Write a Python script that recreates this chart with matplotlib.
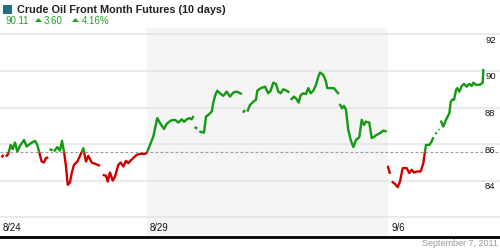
import numpy as np
import matplotlib
matplotlib.use("Agg")
import matplotlib.pyplot as plt
from matplotlib.patches import Rectangle, Polygon
from matplotlib.lines import Line2D

nan = np.nan

# ---- data (time in trading days since start of 8/24, price in USD) ----
t_days = [
    0.035, 0.068, nan,
    0.124, 0.172, 0.222, 0.263, 0.311, 0.359, 0.415, 0.498, 0.554, 0.637, 0.726, 0.774,
    0.815, 0.865, 0.913, 0.954, 1.002, nan,
    1.027, 1.093, nan,
    1.120, 1.189, 1.245, 1.286, 1.328, 1.369, 1.405, 1.452, 1.488, 1.535, 1.604, 1.660,
    1.728, 1.784, 1.832, 1.902, 1.971, 2.075, nan,
    2.131, 2.199, 2.234, 2.282, 2.338, 2.386, 2.454, 2.504, 2.558, 2.614, 2.662, 2.712,
    2.766, 2.836, 2.919, 3.008, 3.044, 3.112, 3.180, 3.263, 3.320, 3.402, 3.458, 3.541,
    3.631, 3.699, 3.770, 3.817, 3.873, 3.927, 3.977, 4.015, nan,
    4.035, 4.093, nan,
    4.135, 4.232, 4.274, 4.322, 4.392, 4.425, 4.461, 4.508, 4.564, 4.633, 4.703, 4.772,
    4.840, 4.911, 4.979, 5.020, nan,
    5.041, 5.083, nan,
    5.131, 5.187, 5.255, 5.311, 5.338, 5.409, 5.498, 5.566, 5.616, 5.670, 5.726, 5.774,
    5.824, 5.878, 5.948, 6.002, nan,
    6.031, 6.100, 6.156, 6.197, 6.239, 6.293, 6.349, 6.396, 6.446, 6.500, 6.556, 6.604,
    6.639, 6.708, 6.763, 6.790, 6.861, 6.929, 6.971, 7.030, nan,
    7.045, 7.095, 7.137, 7.178, 7.226, 7.276, 7.330, 7.386, 7.454, 7.504, 7.552, 7.593,
    7.662, 7.712, 7.745, 7.815, 7.884, 7.952, 8.023, nan,
    8.044, 8.091, nan,
    8.127, 8.195, 8.251, 8.299, 8.355, 8.438, 8.492, 8.541, 8.589, 8.658, 8.728, 8.782,
    8.817, 8.838, 8.907, 8.956, 8.990, nan,
    9.031, 9.060, nan,
    9.102, 9.114, nan,
    9.143, 9.197, 9.253, 9.322, 9.351, 9.392, 9.419, 9.461, 9.488, 9.529, 9.579, 9.627,
    9.683, 9.737, 9.786, 9.820, 9.876, 9.959, 10.015, 10.027,
]
prices = [
    85.27, 85.42, nan,
    85.32, 85.47, 85.96, 85.73, 86.09, 85.60, 85.91, 86.23, 85.87, 86.05, 86.18, 85.96,
    85.54, 85.05, 85.00, 85.24, 85.28, nan,
    85.72, 85.67, nan,
    85.60, 85.84, 85.65, 86.18, 85.60, 84.78, 83.78, 83.91, 84.42, 84.87, 85.05, 85.36,
    85.78, 85.05, 85.36, 85.00, 84.93, 84.82, nan,
    84.33, 84.27, 83.96, 84.45, 84.01, 84.23, 84.87, 85.00, 84.78, 85.09, 84.96, 85.11,
    85.24, 85.42, 85.47, 85.47, 85.53, 85.96, 86.41, 87.42, 87.15, 86.83, 87.11, 87.29,
    87.33, 87.18, 87.36, 87.22, 87.36, 87.42, 87.36, 87.54, nan,
    86.93, 86.85, nan,
    86.69, 86.63, 87.51, 87.60, 87.78, 88.27, 88.64, 88.92, 88.78, 88.64, 88.87, 88.60,
    88.82, 88.87, 88.78, 88.74, nan,
    87.72, 87.87, nan,
    87.78, 88.14, 88.32, 88.42, 88.92, 89.06, 89.14, 88.78, 88.92, 89.36, 89.29, 88.87,
    88.78, 89.00, 88.92, 88.82, nan,
    88.42, 88.60, 88.45, 88.27, 88.69, 88.78, 88.74, 89.06, 88.78, 88.92, 89.24, 89.69,
    89.91, 89.78, 89.42, 89.06, 89.06, 89.06, 88.92, 88.74, nan,
    88.20, 87.96, 88.09, 87.87, 86.78, 86.23, 85.84, 86.23, 86.38, 87.33, 87.05, 87.23,
    87.18, 86.33, 86.38, 86.51, 86.60, 86.74, 86.69, nan,
    84.82, 84.38, nan,
    83.96, 83.83, 83.65, 83.96, 84.69, 84.69, 84.42, 84.60, 84.45, 84.51, 84.51, 84.96,
    85.60, 85.96, 85.96, 86.14, 86.38, nan,
    86.56, 86.63, nan,
    86.82, 86.78, nan,
    87.29, 86.96, 87.33, 87.69, 88.32, 88.45, 88.42, 88.96, 89.06, 88.87, 89.18, 89.29,
    89.14, 89.29, 89.18, 89.36, 89.24, 89.25, 89.36, 90.11,
]
reference_price = 85.56
week_starts = [0.0, 3.05, 8.05]
week_labels = ["8/24", "8/29", "9/6"]
y_ticks = [84, 86, 88, 90, 92]
grid_levels = [82, 84, 86, 88, 90, 92]
last_price = 90.11
change = 3.60
change_pct = 4.16
title = "Crude Oil Front Month Futures (10 days)"
date_text = "September 7, 2011"

GREEN = "#129a12"
RED = "#d00000"
TXT_GREEN = "#22a022"

# ---- figure ----
W, H = 500, 250
fig = plt.figure(figsize=(W / 100, H / 100), dpi=100)
fig.patch.set_facecolor("white")

ax_bottom_px, ax_top_px = 237, 28
ax = fig.add_axes([0, 1 - ax_bottom_px / H, 1, (ax_bottom_px - ax_top_px) / H])
ax.set_facecolor("white")
px_per_day = 48.2
ax.set_xlim(0, W / px_per_day)
ax.set_ylim(80.93, 92.345)
for s in ax.spines.values():
    s.set_visible(False)
ax.set_xticks([])
ax.set_yticks([])

# alternating week shading (second week shaded)
ax.axvspan(week_starts[1], week_starts[2], color="#f5f5f5", zorder=0, lw=0)

for g in grid_levels:
    ax.axhline(g, color="#e4e4e4", lw=1.1, zorder=1)

ax.axhline(reference_price, color="#9a9a9a", lw=0.8, ls=(0, (2.5, 2.0)), zorder=2)

# ---- line coloured above/below reference ----
t = np.array(t_days, dtype=float)
p = np.array(prices, dtype=float)
tt, pp = [t[0]], [p[0]]
for i in range(len(t) - 1):
    a, b = p[i], p[i + 1]
    if not (np.isnan(a) or np.isnan(b)) and (a - reference_price) * (b - reference_price) < 0:
        tc = t[i] + (reference_price - a) / (b - a) * (t[i + 1] - t[i])
        tt.append(tc)
        pp.append(reference_price)
    tt.append(t[i + 1])
    pp.append(b)
tt = np.array(tt)
pp = np.array(pp)
eps = 1e-9
pg = np.where(pp >= reference_price - eps, pp, np.nan)
pr = np.where(pp <= reference_price + eps, pp, np.nan)
ax.plot(tt, pr, color=RED, lw=1.7, solid_capstyle="butt", solid_joinstyle="round", zorder=3)
ax.plot(tt, pg, color=GREEN, lw=1.7, solid_capstyle="butt", solid_joinstyle="round", zorder=3)

# y labels on right, just under gridlines
for v in y_ticks:
    ax.annotate(str(v), xy=(485 / px_per_day, v), xytext=(0, -4.2), textcoords="offset points",
                ha="left", va="center", fontsize=6.8, family="Liberation Sans", color="#111111",
                zorder=5)

# week labels
for ws, lab in zip(week_starts, week_labels):
    ax.annotate(lab, xy=(ws, 80.93), xytext=(2.2, 6.6), textcoords="offset points",
                ha="left", va="center", fontsize=6.9, family="Liberation Sans", color="#111111")

# bottom black rule
fig.add_artist(Line2D([0, 1], [1 - 237 / H, 1 - 237 / H], transform=fig.transFigure,
                      color="black", lw=2.0))

# ---- header ----
fig.add_artist(Rectangle((3 / W, 1 - 14 / H), 9 / W, 9 / H, transform=fig.transFigure,
                         facecolor="#1f6f89", edgecolor="none"))
fig.text(17 / W, 1 - 13.3 / H, title, fontsize=7.8, fontweight="bold",
         family="Liberation Sans", color="#222222", va="baseline", ha="left")

base = 1 - 24 / H
fig.text(5 / W, base, f"{last_price:.2f}", fontsize=7.0, family="Liberation Sans",
         color=TXT_GREEN, va="baseline", ha="left")
fig.text(44 / W, base, f"{change:.2f}", fontsize=7.0, family="Liberation Sans",
         color=TXT_GREEN, va="baseline", ha="left")
fig.text(82 / W, base, f"{change_pct:.2f}%", fontsize=7.0, family="Liberation Sans",
         color=TXT_GREEN, va="baseline", ha="left")
for x0 in (35, 72):
    tri = Polygon([(x0 / W, 1 - 22 / H), ((x0 + 7) / W, 1 - 22 / H), ((x0 + 3.5) / W, 1 - 18 / H)],
                  closed=True, transform=fig.transFigure, facecolor=TXT_GREEN, edgecolor="none")
    fig.add_artist(tri)

fig.text(498 / W, 1 - 244 / H, date_text, fontsize=6.5, family="Liberation Sans",
         color="#9a9a9a", va="center", ha="right")

fig.savefig("out.png", dpi=100, facecolor="white")
